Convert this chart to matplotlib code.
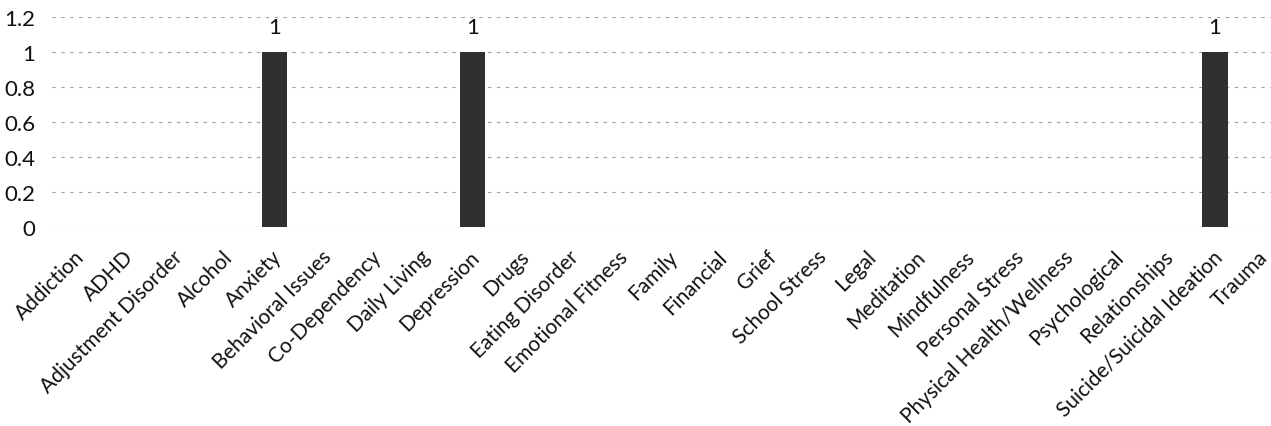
import numpy as np
import matplotlib.pyplot as plt
from matplotlib.transforms import ScaledTranslation

plt.rcParams['font.family'] = ['Lato', 'DejaVu Sans']

categories = ['Addiction', 'ADHD', 'Adjustment Disorder', 'Alcohol', 'Anxiety',
              'Behavioral Issues', 'Co-Dependency', 'Daily Living', 'Depression',
              'Drugs', 'Eating Disorder', 'Emotional Fitness', 'Family', 'Financial',
              'Grief', 'School Stress', 'Legal', 'Meditation', 'Mindfulness',
              'Personal Stress', 'Physical Health/Wellness', 'Psychological',
              'Relationships', 'Suicide/Suicidal Ideation', 'Trauma']
values = [0, 0, 0, 0, 1, 0, 0, 0, 1, 0, 0, 0, 0, 0, 0, 0, 0, 0, 0, 0, 0, 0, 0, 1, 0]
yticks = [0, 0.2, 0.4, 0.6, 0.8, 1, 1.2]
ytick_labels = ['0', '0.2', '0.4', '0.6', '0.8', '1', '1.2']

fig = plt.figure(figsize=(12.71, 4.27), dpi=100)
# plot area in pixels: x 52..1271 (cropped on the right), y 18..228
ax = fig.add_axes([52 / 1271, 1 - 228 / 427, (1271 - 52) / 1271, 210 / 427])

x = np.arange(len(categories))
bars = ax.bar(x, values, width=0.51, color='#303030', zorder=3)

# value labels only on the non-zero bars
for xi, v in zip(x, values):
    if v > 0:
        ax.text(xi, v + 0.145, str(v), ha='center', va='center', fontsize=16, color='#111111')

ax.set_xlim(-0.5, 24.13)
ax.set_ylim(0, 1.2)
ax.set_yticks(yticks)
ax.set_yticklabels(ytick_labels, fontsize=16, color='#111111')
ax.set_xticks(x)
ax.set_xticklabels(categories, rotation=45, ha='right', va='center',
                   rotation_mode='anchor', fontsize=15, color='#111111')

ax.tick_params(axis='x', length=0, pad=19)
ax.tick_params(axis='y', length=0, pad=12)

# nudge the rotated labels a little to the right (last one stays inside the edge)
shift = ScaledTranslation(4 / 100, 0, fig.dpi_scale_trans)
for lab in ax.get_xticklabels()[:-1]:
    lab.set_transform(lab.get_transform() + shift)

ax.grid(axis='y', color='#a0a0a0', linestyle=(0, (3, 5)), linewidth=0.8, zorder=0)
for s in ax.spines.values():
    s.set_visible(False)

fig.savefig('out.png', dpi=100)
